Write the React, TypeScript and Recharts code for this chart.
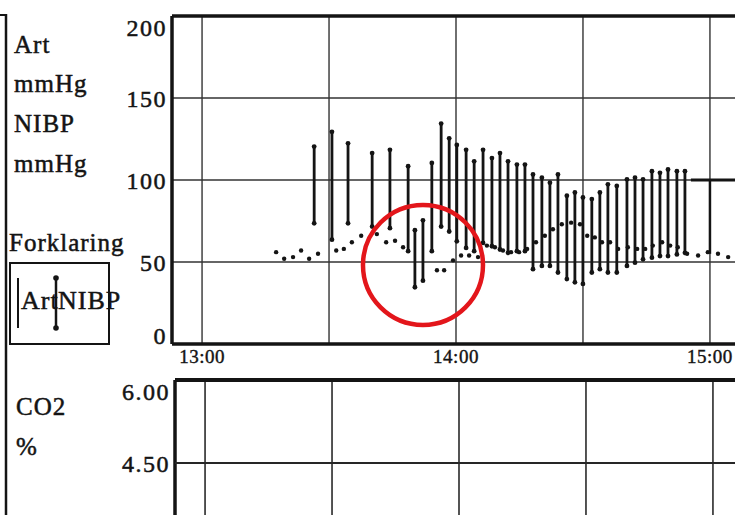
import {
  Bar,
  CartesianGrid,
  ComposedChart,
  Line,
  ReferenceDot,
  ReferenceLine,
  Scatter,
  XAxis,
  YAxis,
} from "recharts";

// time axis: minutes after 13:00
const timeTicks = [0, 30, 60, 90, 120];
const timeLabels = ["13:00", "", "14:00", "", "15:00"];

// Art / NIBP sticks (systolic-diastolic)
const bpTimes = [
  26.5, 30.7, 34.5, 40.2, 44.4, 48.7, 50.3, 52.2, 54.3, 56.5, 58.4, 60.2, 62.4,
  64.3, 66.4, 68.5, 70.4, 72.3, 74.4, 76.3, 78.2, 80.3, 82.2, 84.1, 86.2, 88.1,
  90.0, 92.1, 94.0, 95.9, 98.0, 100.4, 102.3, 104.2, 106.3, 108.2, 110.1, 112.2,
  114.1,
];
const bpHigh = [
  121, 130, 123, 117, 119, 109, 70, 76, 111, 135, 126, 122, 119, 112, 119, 114,
  117, 112, 110, 110, 104, 102, 99, 104, 91, 93, 90, 89, 93, 98, 97, 101, 102,
  101, 106, 105, 107, 106, 106,
];
const bpLow = [
  73, 63, 73, 71, 70, 56, 34, 38, 56, 71, 68, 62, 58, 56, 61, 59, 57, 55, 56,
  56, 45, 47, 47, 43, 39, 37, 36, 43, 45, 43, 43, 47, 49, 51, 52, 53, 53, 54,
  55,
];

// small dotted trace
const meanTimes = [
  17.5, 19.4, 21.5, 23.4, 25.3, 27.4, 31.7, 33.5, 35.4, 37.6, 41.3, 43.5, 45.6,
  47.5, 55.5, 57.2, 59.3, 61.2, 63.1, 65.2, 67.3, 69.2, 71.1, 73.0, 74.9, 76.8,
  78.9, 81.0, 82.9, 85.0, 87.2, 89.3, 91.0, 92.8, 94.5, 96.4, 98.3, 100.6,
  102.8, 104.7, 106.5, 108.7, 110.6, 112.4, 114.6, 117.2, 119.5, 121.9, 124.3,
];
const meanValues = [
  56, 52, 53, 57, 52, 55, 57, 58, 62, 66, 67, 62, 63, 59, 45, 45, 51, 54, 54,
  53, 60, 59, 57, 56, 56, 58, 62, 66, 70, 73, 74, 73, 66, 65, 62, 62, 58, 59,
  58, 58, 60, 62, 60, 59, 55, 54, 56, 55, 53,
];

const bpTicks = [0, 50, 100, 150, 200];

// CO2 panel: only its top is in view and no reading is drawn there
const co2Ticks = [0, 1.5, 3, 4.5, 6];
const co2Labelled = [4.5, 6];

const bpRows = bpTimes.map((t, i) => ({ t, range: [bpLow[i], bpHigh[i]] }));
const meanRows = meanTimes.map((t, i) => ({ t, v: meanValues[i] }));
const co2Rows = timeTicks.map((t) => ({ t, v: null as number | null }));

const SERIF = "'Liberation Serif', 'Times New Roman', serif";
const INK = "#141414";
const X_DOMAIN: [number, number] = [-7.1, 127.1];
const PLOT_W = 568;

function makeYTick(
  min: number,
  max: number,
  fmt: (v: number) => string,
  shown?: number[],
  gridStroke?: number,
) {
  return (props: any) => {
    const x = Number(props.x);
    const y = Number(props.y);
    const v = Number(props.payload.value);
    const shift = v === max ? 11 : v === min ? -9 : 0;
    const grid =
      gridStroke && v !== max ? (
        <path
          d={`M${x + 5},${y}H${x + 5 + PLOT_W}`}
          stroke="#262626"
          strokeWidth={gridStroke}
          fill="none"
        />
      ) : null;
    if (shown && !shown.includes(v)) return <g>{grid}</g>;
    return (
      <g>
        {grid}
        <text
          x={x}
          y={y + shift}
          dy="0.36em"
          textAnchor="end"
          fontFamily={SERIF}
          fontSize={24}
          letterSpacing={1.5}
          fill={INK}
          stroke={INK}
          strokeWidth={0.5}
        >
          {fmt(v)}
        </text>
      </g>
    );
  };
}

function TimeTick(props: any) {
  const { x, y, payload } = props;
  const label = timeLabels[timeTicks.indexOf(payload.value)] ?? "";
  return (
    <text
      x={x}
      y={y}
      dy="0.71em"
      textAnchor="middle"
      fontFamily={SERIF}
      fontSize={19}
      letterSpacing={0.5}
      fill={INK}
      stroke={INK}
      strokeWidth={0.4}
    >
      {label}
    </text>
  );
}

function RangeStick(props: any) {
  const { x, y, width, height } = props;
  if (x == null || y == null || !height) return null;
  const cx = x + width / 2;
  return (
    <g fill={INK}>
      <rect x={cx - 1.4} y={y} width={2.8} height={height} />
      <circle cx={cx} cy={y + 1} r={2.4} />
      <circle cx={cx} cy={y + height - 1} r={2.4} />
    </g>
  );
}

function MeanDot(props: any) {
  const { cx, cy } = props;
  return <circle cx={cx} cy={cy} r={2.2} fill={INK} />;
}

function Sidebar() {
  const label = {
    fontFamily: SERIF,
    fontSize: 25,
    letterSpacing: 1,
    fill: INK,
    stroke: INK,
    strokeWidth: 0.5,
  } as const;
  return (
    <svg
      width={735}
      height={515}
      style={{ position: "absolute", left: 0, top: 0 }}
    >
      <line x1={0} y1={15} x2={7} y2={15} stroke={INK} strokeWidth={2} />
      <line x1={6} y1={14} x2={6} y2={515} stroke={INK} strokeWidth={2.5} />
      <text x={14} y={53} {...label}>Art</text>
      <text x={14} y={92} {...label}>mmHg</text>
      <text x={14} y={132} {...label}>NIBP</text>
      <text x={14} y={172} {...label}>mmHg</text>
      <text x={9} y={251} {...label}>Forklaring</text>

      <rect
        x={10}
        y={263}
        width={99}
        height={81}
        fill="none"
        stroke={INK}
        strokeWidth={2}
      />
      <line x1={18} y1={278} x2={18} y2={328} stroke={INK} strokeWidth={2} />
      <text x={21} y={309} {...label} fontSize={26}>Art</text>
      <line x1={56} y1={277} x2={56} y2={329} stroke={INK} strokeWidth={2.5} />
      <circle cx={56} cy={278} r={2.8} fill={INK} />
      <circle cx={56} cy={328} r={2.8} fill={INK} />
      <text x={58} y={309} {...label} fontSize={26}>NIBP</text>

      <text x={16} y={415} {...label}>CO2</text>
      <text x={16} y={455} {...label}>%</text>
    </svg>
  );
}

export default function App() {
  return (
    <div
      style={{
        position: "fixed",
        left: 0,
        top: 0,
        width: 735,
        height: 515,
        overflow: "hidden",
        background: "#fff",
      }}
    >
      <Sidebar />

      {/* Art / NIBP panel */}
      <div style={{ position: "absolute", left: 110, top: 0 }}>
        <ComposedChart
          width={630}
          height={372}
          data={bpRows}
          margin={{ top: 16, right: 0, bottom: 0, left: 0 }}
        >
          <CartesianGrid stroke="#333" strokeWidth={1.4} />
          <XAxis
            type="number"
            dataKey="t"
            domain={X_DOMAIN}
            ticks={timeTicks}
            allowDataOverflow
            height={28}
            tickSize={0}
            tickMargin={6}
            tick={<TimeTick />}
            axisLine={{ stroke: INK, strokeWidth: 3.5 }}
          />
          <YAxis
            type="number"
            domain={[0, 200]}
            ticks={bpTicks}
            width={62}
            tickSize={0}
            tickMargin={5}
            tick={makeYTick(0, 200, (v) => String(v))}
            axisLine={{ stroke: INK, strokeWidth: 3.5 }}
          />
          <ReferenceLine y={200} stroke={INK} strokeWidth={3.5} />
          <ReferenceLine
            segment={[
              { x: 115.5, y: 100 },
              { x: 127.1, y: 100 },
            ]}
            stroke={INK}
            strokeWidth={3}
          />
          <ReferenceLine
            segment={[
              { x: 120, y: 100 },
              { x: 120, y: 55 },
            ]}
            stroke={INK}
            strokeWidth={2.5}
          />
          <Bar
            dataKey="range"
            barSize={3}
            shape={<RangeStick />}
            isAnimationActive={false}
          />
          <Scatter
            data={meanRows}
            dataKey="v"
            shape={<MeanDot />}
            isAnimationActive={false}
          />
          <ReferenceDot
            x={52.2}
            y={48.2}
            r={60}
            fill="none"
            stroke="#e3161b"
            strokeWidth={4.5}
          />
        </ComposedChart>
      </div>

      {/* CO2 panel */}
      <div style={{ position: "absolute", left: 113, top: 364 }}>
        <ComposedChart
          width={630}
          height={348}
          data={co2Rows}
          margin={{ top: 16, right: 0, bottom: 0, left: 0 }}
        >
          <CartesianGrid stroke="#2a2a2a" strokeWidth={1.6} horizontal={false} />
          <XAxis
            type="number"
            dataKey="t"
            domain={X_DOMAIN}
            ticks={timeTicks}
            allowDataOverflow
            hide
          />
          <YAxis
            type="number"
            domain={[0, 6]}
            ticks={co2Ticks}
            allowDataOverflow
            width={62}
            tickSize={0}
            tickMargin={5}
            tick={makeYTick(0, 6, (v) => v.toFixed(2), co2Labelled, 2.2)}
            axisLine={{ stroke: INK, strokeWidth: 3.5 }}
          />
          <ReferenceLine y={6} stroke={INK} strokeWidth={4} />
          <Line
            dataKey="v"
            stroke={INK}
            dot={false}
            isAnimationActive={false}
          />
        </ComposedChart>
      </div>
    </div>
  );
}
